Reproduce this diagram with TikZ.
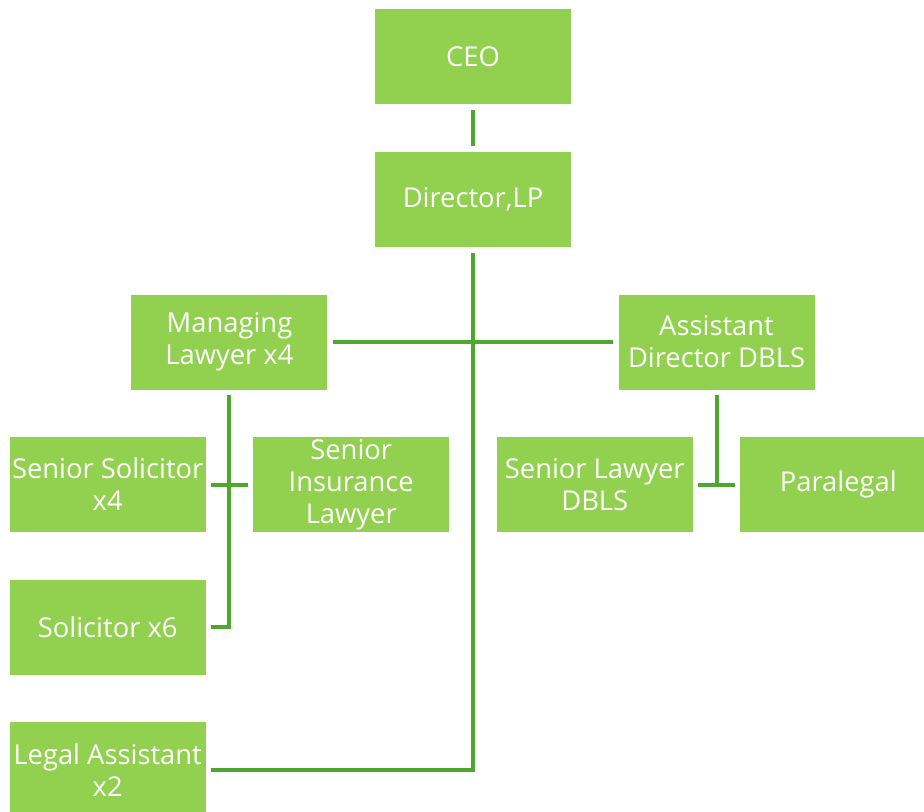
\documentclass[tikz,border=0pt]{standalone}
\usepackage{fontspec}
\setmainfont{Open Sans}
\usetikzlibrary{positioning}
\definecolor{boxGreen}{HTML}{92D050}
\definecolor{lineGreen}{HTML}{4EA72E}
\tikzset{node distance=35.25pt and 35.25pt,
		roleBox/.style={rectangle,fill=boxGreen,inner sep=0pt,minimum width=147pt,
		                minimum height=71.25pt,text=white,font=\fontsize{20.5}{24}\selectfont},
		orgEdge/.style={line width=3pt,color=lineGreen,shorten <=4pt,shorten >=4pt},
		orgEdgeOpen/.style={orgEdge,shorten >=0pt},
		every node/.style={align=center}}

\begin{document}
\begin{tikzpicture}[x=0.75pt,y=-0.75pt]
				\useasboundingbox (0,0) rectangle (924,812);
				\node [roleBox] (ceo) at (473,57) {CEO};
				\node [roleBox] (dir) [below=of ceo] {Director,LP};
				\node [roleBox] (ml) [below left=of dir] {Managing\\Lawyer x4};
				\node [roleBox] (ad) [below right=of dir] {Assistant\\Director DBLS};
				\node [roleBox] (ss) [below left=35.25pt and 17.625pt of ml.south] {Senior Solicitor\\x4};
				\node [roleBox] (si) [right=of ss] {Senior\\Insurance\\Lawyer};
				\node [roleBox] (sol) [below=of ss] {Solicitor x6};
				\node [roleBox] (la) [below=of sol] {Legal Assistant\\x2};
				\node [roleBox] (sl) [below left=35.25pt and 17.625pt of ad.south] {Senior Lawyer\\DBLS};
				\node [roleBox] (pl) [right=of sl] {Paralegal};
				%edges
				\draw[orgEdge] (ceo) -- (dir);
				\draw[orgEdge] (dir.south) |- (la.east);
				\draw[orgEdge] (ml.east) -- (ad.west);
				\draw[orgEdge] (ml.south) |- (sol.east);
				\draw[orgEdge] (ss.east) -- (si.west);
				\draw[orgEdgeOpen] (ad.south) -- (ad.south |- sl.east);
				\draw[orgEdge] (sl.east) -- (pl.west);
			\end{tikzpicture}
\end{document}
